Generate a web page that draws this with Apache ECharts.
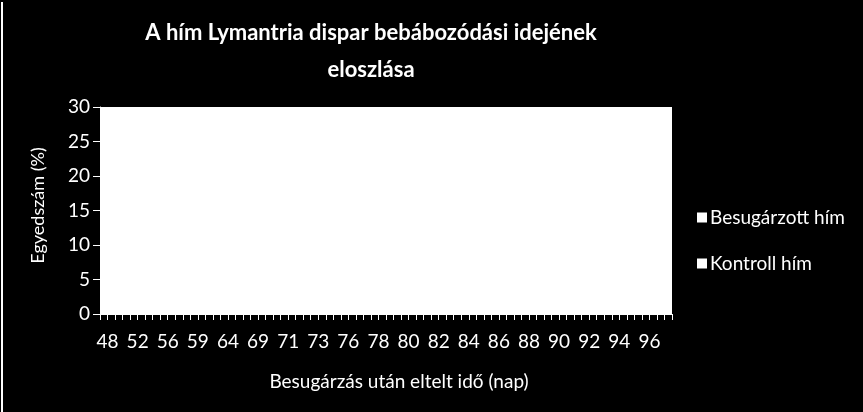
<!DOCTYPE html>
<html>
<head>
<meta charset="utf-8">
<script src="https://cdn.jsdelivr.net/npm/echarts@6/dist/echarts.min.js"></script>
<style>
html,body{margin:0;padding:0;background:#000;}
#c{width:863px;height:412px;}
</style>
</head>
<body>
<div id="c"></div>
<script>
// Categories: pupation day after irradiation (every other label visible in the reference)
const days = ['48','50','52','54','56','58','59','62','64','66','69','70','71','72','73','75','76','77','78','79','80','81','82','83','84','85','86','87','88','89','90','91','92','93','94','95','96','97'];
// Bars are drawn white on a white plot area in the reference, so no values are readable
const irradiated = days.map(() => 0);
const control = days.map(() => 0);
const yTicks = [0, 5, 10, 15, 20, 25, 30];

const FONT = 'Lato';
const chart = echarts.init(document.getElementById('c'));
chart.setOption({
  backgroundColor: '#000',
  animation: false,
  textStyle: { fontFamily: FONT, color: '#fff' },
  title: {
    text: 'A hím Lymantria dispar bebábozódási idejének\neloszlása',
    left: 366,
    top: 9,
    textAlign: 'center',
    textStyle: { color: '#fff', fontFamily: FONT, fontWeight: 'bold', fontSize: 22, lineHeight: 37 }
  },
  legend: {
    orient: 'vertical',
    left: 692,
    top: 203,
    itemGap: 27,
    itemWidth: 10,
    itemHeight: 10,
    icon: 'rect',
    textStyle: { color: '#fff', fontFamily: FONT, fontSize: 19, padding: [0, 0, 0, -2] },
    data: ['Besugárzott hím', 'Kontroll hím']
  },
  grid: {
    left: 100, right: 191, top: 107, bottom: 98,
    show: true, backgroundColor: '#fff', borderWidth: 0
  },
  xAxis: [{
    type: 'category',
    data: days,
    axisLine: { show: true, lineStyle: { color: '#fff', width: 1 } },
    axisTick: { show: false },
    axisLabel: { interval: 1, color: '#fff', fontFamily: FONT, fontSize: 19, margin: 18 },
    name: 'Besugárzás után eltelt idő (nap)',
    nameLocation: 'middle',
    nameGap: 58,
    nameTextStyle: { color: '#fff', fontFamily: FONT, fontSize: 19, padding: [0, 0, 0, 26] }
  }, {
    type: 'value',
    min: 0, max: days.length * 2, interval: 1,
    position: 'bottom',
    axisLine: { show: false },
    axisTick: { show: true, length: 6, lineStyle: { color: '#fff' } },
    axisLabel: { show: false },
    splitLine: { show: false }
  }],
  yAxis: {
    type: 'value',
    min: yTicks[0], max: yTicks[yTicks.length - 1], interval: 5,
    axisLine: { show: true, lineStyle: { color: '#fff' } },
    axisTick: { show: true, length: 7, lineStyle: { color: '#fff' } },
    axisLabel: { color: '#fff', fontFamily: FONT, fontSize: 19, margin: 10 },
    splitLine: { show: false },
    name: 'Egyedszám (%)',
    nameLocation: 'middle',
    nameGap: 53,
    nameTextStyle: { color: '#fff', fontFamily: FONT, fontSize: 18, padding: [0, 0, 0, 10] }
  },
  series: [
    { name: 'Besugárzott hím', type: 'bar', xAxisIndex: 0, data: irradiated, itemStyle: { color: '#fff' } },
    { name: 'Kontroll hím', type: 'bar', xAxisIndex: 0, data: control, itemStyle: { color: '#fff' } }
  ],
  graphic: [{
    type: 'rect',
    shape: { x: 1, y: 2, width: 2, height: 410 },
    style: { fill: '#fff' },
    silent: true
  }]
});
</script>
</body>
</html>
